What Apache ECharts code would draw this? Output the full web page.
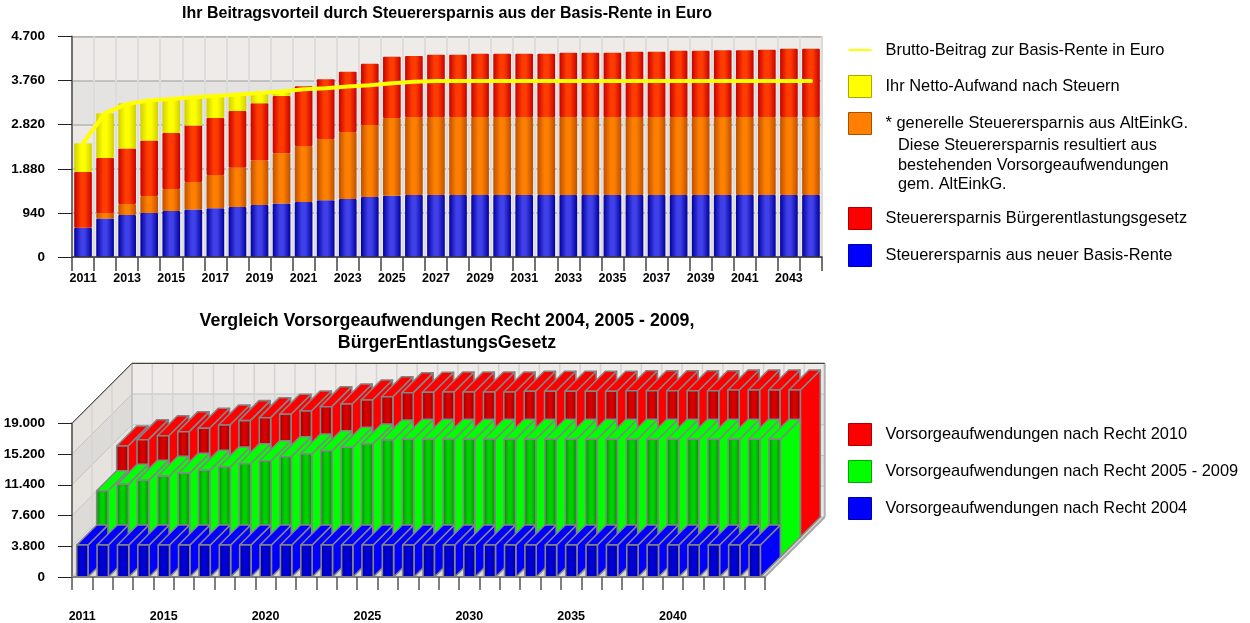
<!DOCTYPE html>
<html><head><meta charset="utf-8">
<script src="https://cdn.jsdelivr.net/npm/echarts@6/dist/echarts.min.js"></script>
<style>html,body{margin:0;padding:0;background:#fff}#c{width:1250px;height:623px}</style>
</head><body><div id="c"></div>
<script>
const years = [2011,2012,2013,2014,2015,2016,2017,2018,2019,2020,2021,2022,2023,2024,2025,2026,2027,2028,2029,2030,2031,2032,2033,2034,2035,2036,2037,2038,2039,2040,2041,2042,2043,2044];
const neueBasisRente = [626,818,896,939,981,1010,1038,1067,1109,1138,1173,1209,1237,1280,1308,1322,1322,1322,1322,1322,1322,1322,1322,1322,1322,1322,1322,1322,1322,1322,1322,1322,1322,1322];
const generelleErsparnis = [0,121,234,362,469,590,711,838,946,1073,1195,1308,1429,1536,1657,1664,1664,1664,1664,1664,1664,1664,1664,1664,1664,1664,1664,1664,1664,1664,1664,1664,1664,1664];
const buergerEntlastung = [1187,1173,1181,1180,1195,1201,1216,1209,1223,1223,1272,1273,1280,1301,1301,1301,1323,1323,1344,1344,1344,1344,1365,1365,1365,1387,1387,1408,1408,1422,1422,1429,1451,1451];
const nettoAufwand = [612,953,967,854,725,598,469,349,220,71,0,0,0,0,0,0,0,0,0,0,0,0,0,0,0,0,0,0,0,0,0,0,0,0];
const bruttoBeitrag = [2425,3065,3263,3335,3370,3405,3434,3463,3498,3527,3576,3598,3633,3662,3704,3733,3754,3754,3754,3754,3754,3754,3754,3754,3754,3754,3754,3754,3754,3754,3754,3754,3754,3754];
const recht2004 = [3950,3950,3950,3950,3950,3950,3950,3950,3950,3950,3950,3950,3950,3950,3950,3950,3950,3950,3950,3950,3950,3950,3950,3950,3950,3950,3950,3950,3950,3950,3950,3950,3950,3950];
const recht2005 = [8195,8985,9480,9975,10345,10715,11125,11530,11900,12400,12730,13140,13560,13970,14460,14550,14550,14550,14550,14550,14550,14550,14550,14550,14550,14550,14550,14550,14550,14550,14550,14550,14550,14550];
const recht2010 = [11250,12030,12520,13020,13440,13840,14380,14750,15170,15570,16110,16440,16940,17340,17840,17890,17920,17920,17920,17920,18010,18010,18010,18010,18010,18080,18080,18080,18080,18080,18170,18170,18170,18170];
const lowerYearLabels = [2011,2015,2020,2025,2030,2035,2040];
const titleUpper = 'Ihr Beitragsvorteil durch Steuerersparnis aus der Basis-Rente in Euro';
const titleLower = 'Vergleich Vorsorgeaufwendungen Recht 2004, 2005 - 2009,\nBürgerEntlastungsGesetz';
const noteText = 'Diese Steuerersparnis resultiert aus\nbestehenden Vorsorgeaufwendungen\ngem. AltEinkG.';

const FONT = '"Liberation Sans", Arial, sans-serif';
const dotted = v => String(v).replace(/\B(?=(\d{3})+$)/g, '.');
const cyl = (edgeL, mid, edgeR) => ({type:'linear',x:0,y:0,x2:1,y2:0,colorStops:[{offset:0,color:edgeL},{offset:0.4,color:mid},{offset:0.6,color:mid},{offset:1,color:edgeR}]});
const legendIcon = (c,b) => ({icon:'rect',itemStyle:{color:c,borderColor:b,borderWidth:1}});

const DEPTH = 20;
function wallRender(params, api){
  const cs = params.coordSys, x0 = cs.x, x1 = cs.x+cs.width, yT = cs.y, yB = cs.y+cs.height;
  const d = DEPTH*3, kids = [];
  const poly = (pts, fill) => ({type:'polygon',shape:{points:pts},style:{fill,stroke:null}});
  const line = (a,b,c,w) => ({type:'line',shape:{x1:a[0],y1:a[1],x2:b[0],y2:b[1]},style:{stroke:c,lineWidth:w}});
  const ticks = [0,3800,7600,11400,15200,19000];
  kids.push(poly([[x0,yB],[x0+d,yB-d],[x1+d,yB-d],[x1,yB]],'#dcdad6'));
  for(let i=0;i<5;i++){
    const a = api.coord([0,ticks[i]])[1], b = api.coord([0,ticks[i+1]])[1];
    kids.push(poly([[x0+d,a-d],[x1+d,a-d],[x1+d,b-d],[x0+d,b-d]], (i%2)?'#e4e3e2':'#eeebe9'));
    kids.push(poly([[x0,a],[x0+d,a-d],[x0+d,b-d],[x0,b]], (i%2)?'#dddbd7':'#e6e3df'));
  }
  ticks.forEach((t,i)=>{
    const y = api.coord([0,t])[1];
    kids.push(line([x0+d,y-d],[x1+d,y-d],'#c4c4c4',1));
    kids.push(line([x0,y],[x0+d,y-d],'#c4c4c4',1));
  });
  const step = cs.width/years.length;
  for(let i=1;i<years.length;i++){
    const x = x0+i*step+d;
    kids.push(line([x,yT-d],[x,yB-d],'#d4d4d4',1.5));
  }
  for(let i=1;i<3;i++){
    kids.push(line([x0+i*20,yT-i*20],[x0+i*20,yB-i*20],'#d4d4d4',1.5));
  }
  kids.push(line([x0+d,yT-d],[x0+d,yB-d],'#c4c4c4',2));
  kids.push(line([x1+d,yT-d],[x1+d,yB-d],'#b0b0b0',2));
  kids.push(line([x1,yB],[x1+d,yB-d],'#a8a8a8',2));
  kids.push(line([x0,yT],[x0+d,yT-d],'#222',1));
  kids.push(line([x0+d,yT-d],[x1+d,yT-d],'#222',1));
  return {type:'group',children:kids};
}
function barRender(layer, fc){
  return function(params, api){
    const c0 = api.coord([api.value(0),0]), c1 = api.coord([api.value(0),api.value(1)]);
    const step = api.size([1,0])[0], w = 11.3;
    const off = DEPTH*layer;
    const xL = c0[0]-step/2+4.7+off, xR = xL+w, yB = c0[1]-off, yT = c1[1]-off;
    const style = f => ({fill:f,stroke:'#858585',lineWidth:1.6,lineJoin:'round'});
    return {type:'group',children:[
      {type:'polygon',shape:{points:[[xR,yB],[xR+DEPTH,yB-DEPTH],[xR+DEPTH,yT-DEPTH],[xR,yT]]},style:style(fc.side)},
      {type:'polygon',shape:{points:[[xL,yT],[xL+DEPTH,yT-DEPTH],[xR+DEPTH,yT-DEPTH],[xR,yT]]},style:style(fc.top)},
      {type:'rect',shape:{x:xL,y:yT,width:w,height:yB-yT},style:style(cyl(fc.a,fc.b,fc.a))}
    ]};
  };
}
const toData = arr => arr.map((v,i)=>[i,v]);
const barLayer = (name,arr,layer,fc) => ({name,type:'custom',xAxisIndex:1,yAxisIndex:1,z:2+(3-layer),silent:true,
  renderItem:barRender(layer,fc),encode:{x:0,y:1},data:toData(arr),itemStyle:{color:fc.top}});
const stackBar = (name,arr,col) => ({name,type:'bar',stack:'top',xAxisIndex:0,yAxisIndex:0,barWidth:'80%',data:arr,
  z:2,itemStyle:{color:col,borderRadius:1}});

const legendBase = {left:848,padding:0,orient:'vertical',itemWidth:23,itemHeight:22,itemGap:14,selectedMode:false,
  textStyle:{fontFamily:FONT,fontSize:16.4,color:'#000',padding:[0,0,0,9]}};
const lineIcon = 'path://M0,0L0,0M23,22L23,22M0,10L23,10L23,12L0,12Z';

const option = {
  animation:false,
  backgroundColor:'#fff',
  title:[
    {text:titleUpper,left:447,top:6,textAlign:'center',padding:0,textStyle:{fontFamily:FONT,fontWeight:'bold',fontSize:16,color:'#000'}},
    {text:titleLower,left:447,top:310,textAlign:'center',padding:0,textStyle:{fontFamily:FONT,fontWeight:'bold',fontSize:17.8,lineHeight:22,color:'#000'}},
    {text:noteText,left:898,top:136,textStyle:{fontFamily:FONT,fontWeight:'normal',fontSize:16.3,lineHeight:19.5,color:'#000'},padding:0}
  ],
  grid:[
    {left:72,right:428,top:36.5,bottom:366,show:true,borderColor:'#808080',borderWidth:1,backgroundColor:'transparent'},
    {left:72,right:485.3,top:423.3,bottom:46}
  ],
  legend:[
    Object.assign({},legendBase,{top:39,data:[
      {name:'Brutto-Beitrag zur Basis-Rente in Euro',icon:lineIcon,itemStyle:{color:'#ffff00',borderWidth:0}},
      Object.assign({name:'Ihr Netto-Aufwand nach Steuern'},legendIcon('#ffff00','#a8a800')),
      Object.assign({name:'* generelle Steuerersparnis aus AltEinkG.'},legendIcon('#ff8000','#a85000'))]}),
    Object.assign({},legendBase,{top:207,data:[
      Object.assign({name:'Steuerersparnis Bürgerentlastungsgesetz'},legendIcon('#ff0000','#a80000')),
      Object.assign({name:'Steuerersparnis aus neuer Basis-Rente'},legendIcon('#0000ff','#0000a8'))]}),
    Object.assign({},legendBase,{top:423,data:[
      Object.assign({name:'Vorsorgeaufwendungen nach Recht 2010'},legendIcon('#ff0000','#a80000')),
      Object.assign({name:'Vorsorgeaufwendungen nach Recht 2005 - 2009'},legendIcon('#00ff00','#00a800')),
      Object.assign({name:'Vorsorgeaufwendungen nach Recht 2004'},legendIcon('#0000ff','#0000a8'))]})
  ],
  xAxis:[
    {type:'category',gridIndex:0,position:'bottom',data:years,
      axisLine:{show:false},axisTick:{show:false},axisLabel:{show:false},
      splitLine:{show:true,interval:0,lineStyle:{color:'#dcdcdc',width:2}}},
    {type:'category',gridIndex:1,position:'bottom',data:years,z:10,
      axisLine:{lineStyle:{color:'#808080',width:2}},
      axisTick:{show:true,length:13,interval:0,lineStyle:{color:'#555',width:1.5}},
      axisLabel:{interval:(i,v)=>lowerYearLabels.includes(+v),margin:33,fontFamily:FONT,fontWeight:'bold',fontSize:12.5,color:'#000'},
      splitLine:{show:false}},
    {type:'category',gridIndex:0,position:'bottom',data:years,z:10,
      axisLine:{lineStyle:{color:'#333',width:1.5}},
      axisTick:{show:true,length:14,interval:0,lineStyle:{color:'#444',width:1.5}},
      axisLabel:{interval:1,margin:15,fontFamily:FONT,fontWeight:'bold',fontSize:12.5,color:'#000'},
      splitLine:{show:false}}
  ],
  yAxis:[
    {type:'value',gridIndex:0,min:0,max:4700,interval:940,
      axisLine:{show:true,lineStyle:{color:'#707070',width:2}},
      axisTick:{show:true,length:14,lineStyle:{color:'#222',width:1}},
      axisLabel:{margin:27,padding:[2,0,0,0],formatter:dotted,fontFamily:FONT,fontWeight:'bold',fontSize:13.5,color:'#000'},
      splitLine:{show:true,lineStyle:{color:'#b4b4b4',width:1.5}},
      splitArea:{show:true,areaStyle:{color:['#ebe8e6','#ebe8e6','#ebe8e6','#e4e3e2','#eeebe9']}}},
    {type:'value',gridIndex:1,min:0,max:19000,interval:3800,z:10,
      axisLine:{show:true,lineStyle:{color:'#707070',width:2}},
      axisTick:{show:true,length:14,lineStyle:{color:'#222',width:1}},
      axisLabel:{margin:27,padding:[2,0,0,0],formatter:dotted,fontFamily:FONT,fontWeight:'bold',fontSize:13.5,color:'#000'},
      splitLine:{show:false}}
  ],
  series:[
    stackBar('Steuerersparnis aus neuer Basis-Rente',neueBasisRente,cyl('#0000a0','#4040e8','#0000a0')),
    stackBar('* generelle Steuerersparnis aus AltEinkG.',generelleErsparnis,cyl('#c05000','#ff8000','#c05000')),
    stackBar('Steuerersparnis Bürgerentlastungsgesetz',buergerEntlastung,cyl('#c80000','#ff3c00','#c80000')),
    stackBar('Ihr Netto-Aufwand nach Steuern',nettoAufwand,cyl('#d0d000','#ffff00','#d0d000')),
    {name:'Brutto-Beitrag zur Basis-Rente in Euro',type:'line',xAxisIndex:0,yAxisIndex:0,data:bruttoBeitrag,
      z:5,symbol:'none',lineStyle:{color:'#ffff00',width:4,cap:'round'},itemStyle:{color:'#ffff00'}},
    {type:'custom',xAxisIndex:1,yAxisIndex:1,z:1,silent:true,renderItem:wallRender,encode:{x:0,y:1},data:[[0,0]]},
    barLayer('Vorsorgeaufwendungen nach Recht 2010',recht2010,2,{side:'#ff0000',top:'#ff0000',a:'#900000',b:'#d80000'}),
    barLayer('Vorsorgeaufwendungen nach Recht 2005 - 2009',recht2005,1,{side:'#00ff00',top:'#00ff00',a:'#008800',b:'#00d000'}),
    barLayer('Vorsorgeaufwendungen nach Recht 2004',recht2004,0,{side:'#0000ff',top:'#0000ff',a:'#000090',b:'#0000d8'})
  ]
};
const chart = echarts.init(document.getElementById('c'),null,{renderer:'canvas'});
chart.setOption(option);
</script></body></html>
